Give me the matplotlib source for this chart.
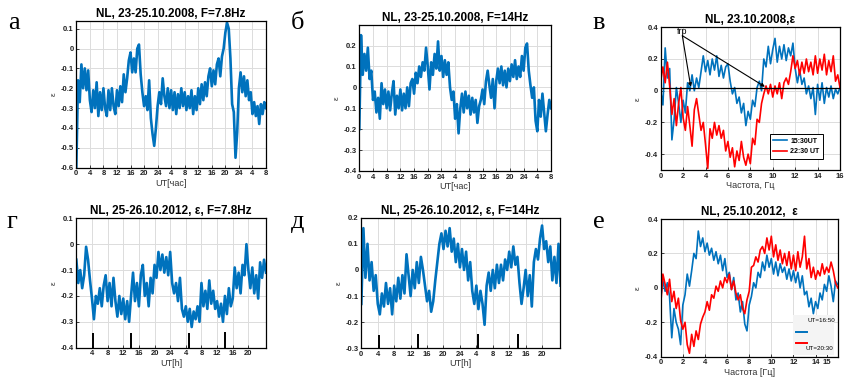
import numpy as np
import matplotlib
matplotlib.use('Agg')
import matplotlib.pyplot as plt
from matplotlib.lines import Line2D
from matplotlib.patches import Rectangle

plt.rcParams['font.family'] = 'Liberation Sans'
plt.rcParams['axes.unicode_minus'] = False

BLUE = '#0072BD'
RED = '#FF0000'

# --- 23-25.10.2008, sampled every 0.5 h ----------------------------------
dt = 0.5
eps_2008_78 = [
    -0.60, -0.16, -0.27, -0.08, -0.20, -0.10, -0.21, -0.11, -0.26, -0.32,
    -0.21, -0.30, -0.17, -0.34, -0.22, -0.31, -0.20, -0.30, -0.34, -0.21,
    -0.31, -0.20, -0.29, -0.33, -0.21, -0.29, -0.19, -0.27, -0.13, -0.22,
    -0.15, -0.06, -0.02, -0.12, -0.05, -0.12, 0.00, 0.02, -0.13, -0.22,
    -0.29, -0.24, -0.31, -0.16, -0.35, -0.43, -0.49, -0.40, -0.29, -0.22,
    -0.28, -0.15, -0.24, -0.29, -0.20, -0.30, -0.21, -0.31, -0.22, -0.33,
    -0.23, -0.30, -0.20, -0.29, -0.22, -0.31, -0.24, -0.30, -0.21, -0.33,
    -0.24, -0.31, -0.20, -0.28, -0.18, -0.26, -0.17, -0.24, -0.14, -0.10,
    -0.19, -0.11, -0.18, -0.08, -0.05, -0.14, -0.04, 0.00, 0.08, 0.13,
    0.10, -0.05, -0.28, -0.32, -0.55, -0.42, -0.20, -0.12, -0.22, -0.14,
    -0.24, -0.16, -0.26, -0.22, -0.33, -0.27, -0.34, -0.29, -0.38, -0.28,
    -0.33, -0.27, -0.30,
]
eps_2008_14 = [
    -0.20, 0.25, 0.06, 0.16, 0.08, 0.19, 0.04, 0.08, -0.06, -0.02,
    -0.12, -0.05, -0.15, 0.02, -0.08, -0.01, -0.10, -0.02, -0.11, -0.03,
    0.03, -0.13, -0.04, -0.10, -0.01, -0.11, -0.03, -0.10, 0.00, -0.09,
    0.02, 0.04, -0.03, 0.07, 0.02, 0.10, 0.05, 0.12, 0.08, 0.19,
    0.10, -0.01, 0.12, 0.06, 0.16, 0.09, 0.22, 0.08, 0.15, 0.05,
    0.13, 0.06, 0.12, 0.00, -0.06, -0.02, -0.15, -0.08, -0.22, -0.10,
    -0.03, -0.12, -0.02, -0.10, -0.04, -0.13, -0.05, -0.12, -0.06, -0.17,
    -0.09, -0.06, -0.01, -0.08, 0.03, 0.08, 0.01, -0.05, 0.04, -0.10,
    0.03, 0.09, 0.02, 0.10, 0.01, 0.08, 0.00, 0.09, 0.03, 0.11,
    0.05, 0.13, 0.04, 0.10, 0.05, 0.15, 0.08, 0.19, 0.21, 0.08,
    0.01, -0.05, 0.00, -0.16, -0.21, -0.06, -0.14, -0.03, -0.12, -0.21,
    -0.13, -0.06, -0.10,
]
hour_labels_2008 = ['0', '4', '8', '12', '16', '20', '24',
                    '4', '8', '12', '16', '20', '24', '4', '8']

# --- spectra 23.10.2008, 0.2 Hz step -------------------------------------
df = 0.2
spec_1530 = [
    0.00, -0.09, 0.27, 0.08, 0.14, -0.31, -0.18, 0.02, -0.08, -0.20,
    -0.06, -0.14, 0.05, 0.00, 0.10, 0.00, 0.08, 0.02, 0.12, 0.22,
    0.12, 0.19, 0.10, 0.20, 0.13, 0.22, 0.09, 0.16, 0.08, 0.15,
    0.17, 0.06, -0.02, 0.02, -0.08, -0.04, -0.14, -0.08, -0.22, -0.13,
    -0.18, -0.06, -0.10, 0.02, 0.06, 0.00, 0.20, 0.15, 0.28, 0.17,
    0.26, 0.33, 0.18, 0.28, 0.20, 0.29, 0.19, 0.27, 0.22, 0.30,
    0.14, 0.05, 0.13, 0.04, 0.08, -0.02, 0.03, -0.05, 0.02, -0.15,
    0.04, -0.06, 0.05, -0.08, 0.02, -0.04, 0.03, -0.05, 0.01, -0.02,
    0.02,
]
spec_2230 = [
    0.06, 0.15, 0.05, 0.18, 0.03, -0.15, -0.05, -0.22, -0.08, 0.02,
    -0.17, -0.25, -0.10, -0.22, -0.35, -0.12, -0.05, -0.15, -0.25, -0.20,
    -0.34, -0.49, -0.24, -0.30, -0.20, -0.28, -0.22, -0.30, -0.25, -0.38,
    -0.32, -0.42, -0.36, -0.48, -0.38, -0.44, -0.32, -0.42, -0.47, -0.40,
    -0.46, -0.30, -0.34, -0.18, -0.20, -0.08, -0.02, 0.03, -0.02, 0.04,
    -0.04, 0.03, -0.02, 0.05, -0.05, 0.05, 0.08, 0.04, 0.12, 0.22,
    0.14, 0.19, 0.10, 0.18, 0.11, 0.20, 0.12, 0.18, 0.10, 0.22,
    0.11, 0.20, 0.13, 0.23, 0.10, 0.19, 0.12, 0.22, 0.06, 0.10,
    0.02,
]

# --- 25-26.10.2012 --------------------------------------------------------
eps_2012_78 = [
    -0.06, -0.15, -0.10, -0.17, -0.12, -0.01, -0.06, -0.14, -0.21, -0.29,
    -0.20, -0.23, -0.17, -0.24, -0.16, -0.12, -0.22, -0.15, -0.24, -0.13,
    -0.22, -0.28, -0.20, -0.27, -0.21, -0.29, -0.22, -0.30, -0.20, -0.11,
    -0.22, -0.15, -0.24, -0.12, -0.08, -0.20, -0.15, -0.24, -0.13, -0.19,
    -0.08, -0.13, -0.03, -0.10, -0.04, -0.11, -0.05, -0.12, -0.03, -0.15,
    -0.19, -0.15, -0.22, -0.13, -0.25, -0.28, -0.24, -0.30, -0.25, -0.32,
    -0.26, -0.29, -0.24, -0.30, -0.15, -0.24, -0.18, -0.25, -0.14, -0.23,
    -0.18, -0.25, -0.22, -0.28, -0.23, -0.30, -0.20, -0.27, -0.17, -0.24,
    -0.21, -0.09, -0.17, -0.11, -0.19, -0.08, -0.12, 0.00, -0.10, -0.17,
    -0.09, -0.19, -0.12, -0.21, -0.07, -0.13, -0.06, -0.11,
]
eps_2012_14 = [
    -0.13, 0.16, -0.03, 0.10, -0.04, 0.03, -0.08, -0.02, -0.13, -0.17,
    -0.09, -0.14, -0.05, -0.13, -0.07, -0.17, -0.06, -0.12, -0.03, -0.11,
    -0.02, -0.09, 0.06, -0.02, -0.10, 0.00, -0.07, 0.03, -0.05, 0.05,
    0.00, -0.06, -0.12, -0.08, -0.16, -0.12, -0.04, 0.03, 0.10, 0.14,
    0.08, 0.15, 0.09, 0.16, 0.07, 0.12, 0.03, 0.10, 0.01, 0.08,
    0.00, 0.07, -0.04, 0.03, -0.08, -0.13, -0.06, -0.15, -0.08, -0.13,
    -0.21, -0.06, -0.01, -0.08, 0.00, -0.07, 0.02, -0.05, 0.02, -0.04,
    0.04, 0.00, 0.07, 0.01, 0.09, 0.02, 0.05, -0.05, -0.13, -0.07,
    0.00, -0.10, -0.02, -0.14, 0.03, 0.08, 0.04, 0.12, 0.17, 0.08,
    0.11, 0.03, 0.09, -0.04, 0.05, -0.05, 0.10, -0.06,
]
marks_78_t = [4.2, 14.0, 28.7, 38.1]
marks_78_top = [-0.343, -0.345, -0.345, -0.338]
marks_14_t = [4.3, 13.9, 28.5, 38.2]
marks_14_top = [-0.25, -0.245, -0.245, -0.245]

# --- spectra 25.10.2012 ---------------------------------------------------
spec_1650 = [
    -0.06, 0.04, -0.02, 0.03, -0.05, -0.29, -0.12, -0.20, -0.24, -0.33,
    -0.10, -0.04, 0.08, 0.01, 0.10, 0.20, 0.17, 0.33, 0.24, 0.29,
    0.21, 0.26, 0.19, 0.23, 0.16, 0.21, 0.14, 0.19, 0.10, 0.17,
    0.06, 0.09, -0.01, 0.06, -0.07, -0.03, -0.14, -0.08, -0.21, -0.25,
    -0.10, -0.05, 0.03, 0.00, 0.09, 0.06, 0.15, 0.10, 0.19, 0.12,
    0.17, 0.08, 0.15, 0.07, 0.14, 0.09, 0.12, 0.05, 0.11, 0.04,
    0.10, 0.03, 0.09, 0.00, 0.07, -0.04, -0.02, -0.11, -0.06, -0.15,
    -0.08, -0.12, -0.03, -0.07, 0.02, -0.02, 0.07, 0.01, -0.08, 0.04,
    0.02,
]
spec_2030 = [
    -0.10, 0.08, 0.02, -0.04, 0.05, -0.08, -0.02, -0.12, -0.06, -0.19,
    -0.24, -0.20, -0.33, -0.38, -0.27, -0.34, -0.25, -0.30, -0.21, -0.17,
    -0.14, -0.08, -0.13, -0.04, -0.06, 0.01, -0.02, 0.04, 0.00, 0.06,
    0.03, 0.08, -0.01, 0.04, -0.03, -0.07, -0.04, -0.12, -0.15, -0.07,
    -0.02, 0.12, 0.13, 0.18, 0.15, 0.22, 0.24, 0.20, 0.29, 0.22,
    0.30, 0.18, 0.25, 0.16, 0.22, 0.14, 0.20, 0.13, 0.21, 0.11,
    0.19, 0.10, 0.21, 0.12, 0.18, 0.30, 0.11, 0.17, 0.06, 0.12,
    0.05, 0.10, 0.07, 0.14, 0.08, 0.12, 0.09, 0.15, 0.10, 0.03,
    0.00,
]


def fmt(v):
    v = round(float(v), 2) + 0.0
    return f'{v:g}'


def style(ax, xticks, xlabels, yticks):
    ax.set_xticks(xticks)
    ax.set_xticklabels(xlabels)
    ax.set_yticks(yticks)
    ax.set_yticklabels([fmt(v) for v in yticks])
    ax.grid(True, color='#dcdcdc', lw=0.7)
    ax.set_axisbelow(True)
    ax.tick_params(direction='in', length=2, width=0.6, labelsize=5.5,
                   pad=2, colors='#222222')
    for lab in ax.get_xticklabels() + ax.get_yticklabels():
        lab.set_fontweight('bold')
    for sp in ax.spines.values():
        sp.set_linewidth(0.9)
        sp.set_color('black')


def label(ax, text):
    ax.set_ylabel('ε', fontsize=6, color='#333333', labelpad=2)
    ax.set_xlabel(text, fontsize=6.5, color='#333333', labelpad=1)


fig = plt.figure(figsize=(8.49, 3.82), dpi=100)
TS_LW = 1.9

# а
ax = fig.add_axes([0.0899, 0.561, 0.2234, 0.3848])
t = np.arange(len(eps_2008_78)) * dt
ax.plot(t, eps_2008_78, color=BLUE, lw=TS_LW)
ax.set_xlim(0, 56)
ax.set_ylim(-0.6, 0.14)
style(ax, np.arange(0, 57, 4), hour_labels_2008, np.arange(-0.6, 0.11, 0.1))
label(ax, 'UT[час]')
ax.set_title('NL, 23-25.10.2008, F=7.8Hz', fontsize=8.5, fontweight='bold', pad=3)

# б
ax = fig.add_axes([0.4232, 0.5524, 0.2258, 0.383])
t = np.arange(len(eps_2008_14)) * dt
ax.plot(t, eps_2008_14, color=BLUE, lw=TS_LW)
ax.set_xlim(0, 56)
ax.set_ylim(-0.4, 0.3)
style(ax, np.arange(0, 57, 4), hour_labels_2008, np.arange(-0.4, 0.21, 0.1))
label(ax, 'UT[час]')
ax.set_title('NL, 23-25.10.2008, F=14Hz', fontsize=8.5, fontweight='bold', pad=3)

# в
ax = fig.add_axes([0.7782, 0.555, 0.2112, 0.3736])
f = np.arange(len(spec_1530)) * df
ax.plot(f, spec_1530, color=BLUE, lw=1.2, label='15:30UT')
ax.plot(f, spec_2230, color=RED, lw=1.2, label='22:30 UT')
ax.axhline(0.015, color='black', lw=0.9)
ax.set_xlim(0, 16)
ax.set_ylim(-0.5, 0.4)
style(ax, np.arange(0, 17, 2), [str(v) for v in range(0, 17, 2)],
      np.arange(-0.4, 0.41, 0.2))
label(ax, 'Частота, Гц')
ax.set_title('NL, 23.10.2008,ε', fontsize=8.5, fontweight='bold', pad=3)
ax.text(1.9, 0.375, 'frp', fontsize=6.5, ha='center', va='center')
for x_end in (2.68, 9.3):
    ax.annotate('', xy=(x_end, 0.025), xytext=(1.93, 0.347),
                arrowprops=dict(arrowstyle='-|>', color='black', lw=0.8,
                                mutation_scale=5, shrinkA=0, shrinkB=0))
leg = ax.legend(loc='center', bbox_to_anchor=(0.757, 0.165), fontsize=5,
                handlelength=2.0, handletextpad=0.5, borderpad=0.5,
                labelspacing=0.5, fancybox=False, framealpha=1)
leg.get_frame().set_edgecolor('black')
leg.get_frame().set_linewidth(0.7)
for txt in leg.get_texts():
    txt.set_fontweight('bold')

# г
ax = fig.add_axes([0.0899, 0.0898, 0.2234, 0.3387])
t = np.arange(len(eps_2012_78)) * dt
ax.plot(t, eps_2012_78, color=BLUE, lw=TS_LW)
ax.vlines(marks_78_t, -0.4, marks_78_top, color='black', lw=1.4)
ax.set_xlim(0, 48.5)
ax.set_ylim(-0.4, 0.1)
style(ax, np.arange(4, 45, 4), ['4', '8', '12', '16', '20', '24', '4', '8', '12', '16', '20'],
      np.arange(-0.4, 0.11, 0.1))
label(ax, 'UT[h]')
ax.set_title('NL, 25-26.10.2012, ε, F=7.8Hz', fontsize=8.5, fontweight='bold', pad=3)

# д
ax = fig.add_axes([0.4256, 0.0882, 0.2337, 0.3419])
t = np.arange(len(eps_2012_14)) * dt
ax.plot(t, eps_2012_14, color=BLUE, lw=TS_LW)
ax.vlines(marks_14_t, -0.3, marks_14_top, color='black', lw=1.4)
ax.set_xlim(0, 48.3)
ax.set_ylim(-0.3, 0.2)
style(ax, np.arange(0, 45, 4), ['0', '4', '8', '12', '16', '20', '24', '4', '8', '12', '16', '20'],
      np.arange(-0.3, 0.21, 0.1))
label(ax, 'UT[h]')
ax.set_title('NL, 25-26.10.2012, ε, F=14Hz', fontsize=8.5, fontweight='bold', pad=3)

# е
ax = fig.add_axes([0.7782, 0.0662, 0.2085, 0.3605])
f = np.arange(len(spec_1650)) * df
ax.plot(f, spec_1650, color=BLUE, lw=1.2)
ax.plot(f, spec_2030, color=RED, lw=1.2)
ax.set_xlim(0, 16)
ax.set_ylim(-0.4, 0.4)
style(ax, [0, 2, 4, 6, 8, 10, 12, 14, 15], ['0', '2', '4', '6', '8', '10', '12', '14', '15'],
      np.arange(-0.4, 0.41, 0.2))
label(ax, 'Частота [Гц]')
ax.set_title('NL, 25.10.2012,  ε', fontsize=8.5, fontweight='bold', pad=3)
ax.add_patch(Rectangle((0.747, 0.012), 0.232, 0.291, transform=ax.transAxes,
                       facecolor='#f4f4f4', edgecolor='none', zorder=3))
ax.text(0.905, 0.26, 'UT=16:50', transform=ax.transAxes, fontsize=4.5,
        ha='center', va='center', zorder=4)
ax.add_line(Line2D([0.765, 0.825], [0.18, 0.18], transform=ax.transAxes,
                   color=BLUE, lw=1.4, zorder=4))
ax.add_line(Line2D([0.765, 0.825], [0.10, 0.10], transform=ax.transAxes,
                   color=RED, lw=1.4, zorder=4))
ax.text(0.895, 0.06, 'UT=20:30', transform=ax.transAxes, fontsize=4.5,
        ha='center', va='center', zorder=4)

# panel letters
for x, y, s in [(0.010, 0.94, 'а'), (0.343, 0.94, 'б'), (0.698, 0.94, 'в'),
                (0.008, 0.42, 'г'), (0.343, 0.42, 'д'), (0.698, 0.42, 'е')]:
    fig.text(x, y, s, fontsize=19, family='Liberation Serif', va='center')

fig.savefig('out.png', dpi=100)
